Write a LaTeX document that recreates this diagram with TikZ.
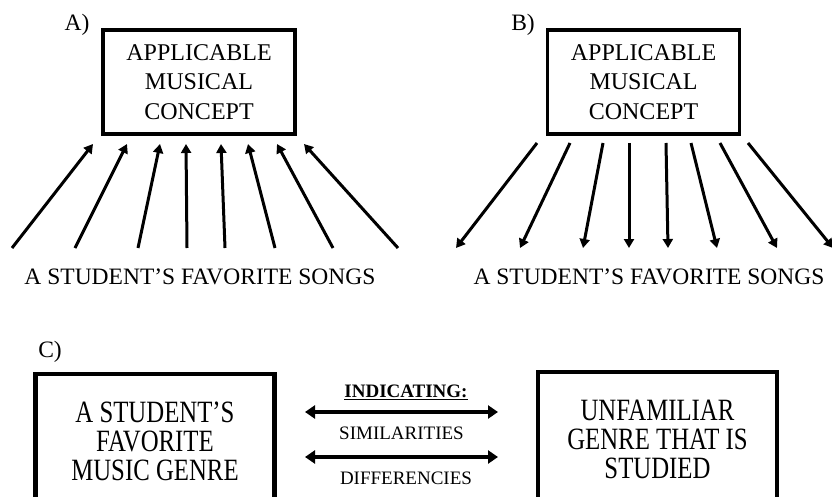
\documentclass[tikz,border=0pt]{standalone}
\usepackage{fontspec}
\setmainfont{Liberation Serif}
\newfontfamily\narrowserif[FakeStretch=0.8]{Liberation Serif}
\usetikzlibrary{arrows.meta,positioning}
\tikzset{conceptbox/.style={draw,line width=3.5pt,minimum width=192pt,minimum height=104pt,
    inner sep=0pt,align=center,font=\fontsize{24}{29.5}\selectfont}}
\tikzset{genrebox/.style={draw,line width=4.5pt,minimum width=239pt,minimum height=134pt,
    inner sep=0pt,align=center,font=\narrowserif\fontsize{31}{29}\selectfont}}
\tikzset{songarrow/.style={line width=3pt,-{Triangle[length=9pt,width=10pt]}}}
\tikzset{linkarrow/.style={line width=4pt,{Triangle[length=10pt,width=13pt]}-{Triangle[length=10pt,width=13pt]}}}
\tikzset{songlabel/.style={inner sep=0pt,font=\fontsize{23.5}{28}\selectfont}}
\tikzset{midlabel/.style={inner sep=0pt,font=\fontsize{19}{22}\selectfont}}

\begin{document}
\begin{tikzpicture}[x=1pt,y=-1pt]
    \useasboundingbox (0,0) rectangle (832,497);% page size of the figure
    % A) songs point to the concept
    \node[songlabel] (labA) at (77,25) {A)};
    \node[conceptbox] (conceptA) at (199,82) {APPLICABLE\\MUSICAL\\CONCEPT};
    \node[songlabel] (songsA) at (200,277) {A STUDENT’S FAVORITE SONGS};
    \foreach \i/\b/\t in {1/12/93,2/75/127,3/138/160,4/187/186,5/225/221,6/275/248,7/333/277,8/398/304} {
        \coordinate (fromA\i) at (\b,248);% foot of arrow
        \coordinate (toA\i) at (\t,144);% tip under the box
        \draw[songarrow] (fromA\i) -- (toA\i);
    }
    % B) the concept points to the songs
    \node[songlabel] (labB) at (523,25) {B)};
    \node[conceptbox] (conceptB) at (643.5,82) {APPLICABLE\\MUSICAL\\CONCEPT};
    \node[songlabel] (songsB) at (649,277) {A STUDENT’S FAVORITE SONGS};
    \foreach \i/\t/\b in {1/537/456,2/570/520,3/603/583,4/629/629,5/666/668,6/691/717,7/720/777,8/748/833} {
        \coordinate (fromB\i) at (\t,143);% under the box
        \coordinate (toB\i) at (\b,248);% tip above the songs
        \draw[songarrow] (fromB\i) -- (toB\i);
    }
    % C) comparing the two genres
    \node[songlabel] (labC) at (50,352) {C)};
    \node[genrebox] (favgenre) at (155,441) {A STUDENT’S\\FAVORITE\\MUSIC GENRE};
    \node[genrebox] (newgenre) at (657.5,439) {UNFAMILIAR\\GENRE THAT IS\\STUDIED};
    \node[midlabel] (indic) at (406,392) {\textbf{\underline{INDICATING:}}};
    \node[midlabel] (simil) at (401.5,433) {SIMILARITIES};
    \node[midlabel] (diffs) at (406,478) {DIFFERENCIES};
    \coordinate (simL) at (305,412);
    \coordinate (simR) at (498,412);
    \coordinate (difL) at (305,457);
    \coordinate (difR) at (498,457);
    \draw[linkarrow] (simL) -- (simR);% similarities
    \draw[linkarrow] (difL) -- (difR);% differences
\end{tikzpicture}
\end{document}
